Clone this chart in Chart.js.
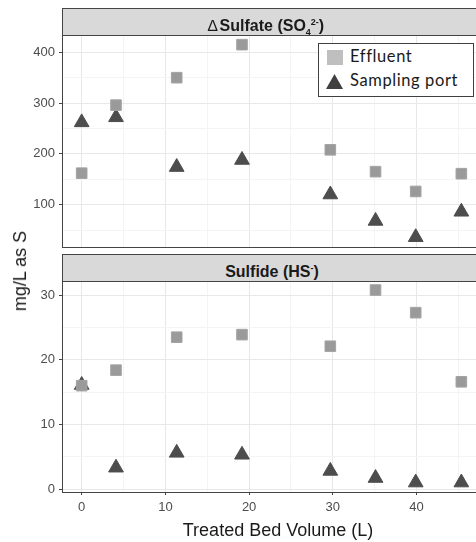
<!DOCTYPE html>
<html>
<head>
<meta charset="utf-8">
<script src="https://cdn.jsdelivr.net/npm/chart.js@4.4.1/dist/chart.umd.min.js"></script>
<style>
    body { margin: 0; background: #fff; }
    #wrap { position: relative; width: 476px; height: 542px; overflow: hidden; font-family: "Liberation Sans", Arial, sans-serif; }
    canvas { position: absolute; left: 0; }
    .strip { position: absolute; left: 62px; width: 440px; height: 28px; box-sizing: border-box; background: #d9d9d9; border: 1px solid #444; z-index: 2; }
    .strip-text { position: absolute; font-weight: bold; font-size: 16px; line-height: 16px; color: #1a1a1a; white-space: nowrap; transform: translateX(-50%); z-index: 3; }
    .strip-text sub, .strip-text sup { font-size: 9px; line-height: 0; }
    .delta { font-weight: normal; margin-right: 2px; }
    #ytitle { position: absolute; left: 20px; top: 271px; font-size: 18px; line-height: 18px; color: #1a1a1a; white-space: nowrap; transform: translate(-50%, -50%) rotate(-90deg); }
    #legend { position: absolute; left: 318px; top: 43px; width: 156px; height: 54px; box-sizing: border-box; border: 1.5px solid #404040; background: #fff; z-index: 4; font-family: Lato, "Open Sans", sans-serif; }
    #legend .sq { position: absolute; left: 7.5px; top: 6px; width: 16px; height: 15px; background: #bfbfbf; }
    #legend .tri { position: absolute; left: 7px; top: 30px; width: 17px; height: 15px; background: #404040; clip-path: polygon(50% 0, 100% 100%, 0 100%); }
    #legend .lbl { position: absolute; left: 31px; font-size: 16.5px; line-height: 16.5px; letter-spacing: 0.6px; color: #1a1a1a; white-space: nowrap; }
</style>
</head>
<body>
<div id="wrap">
    <div class="strip" style="top: 8px;"></div>
    <div class="strip-text" style="left: 266px; top: 17.5px;"><span class="delta">&#8710;</span>Sulfate (SO<sub>4</sub><sup>2-</sup>)</div>
    <div class="strip" style="top: 254px;"></div>
    <div class="strip-text" style="left: 272px; top: 263.5px;">Sulfide (HS<sup>-</sup>)</div>

    <canvas id="chart-sulfate" width="494" height="213" style="top: 35px;"></canvas>
    <canvas id="chart-sulfide" width="494" height="261" style="top: 281px;"></canvas>

    <div id="ytitle">mg/L as S</div>

    <div id="legend">
        <span class="sq"></span><span class="lbl" style="top: 4.2px;">Effluent</span>
        <span class="tri"></span><span class="lbl" style="top: 27.6px;">Sampling port</span>
    </div>
</div>

<script>
// valores
const bedVolume = [0, 4.1, 11.35, 19.15, 29.7, 35.1, 39.9, 45.35];

const sulfateEffluent = [162, 296, 350, 415, 208, 165, 126, 161];
const sulfatePort = [262, 272, 174, 188, 120, 68, 36, 86];

const sulfideEffluent = [16.0, 18.4, 23.5, 23.9, 22.1, 30.8, 27.3, 16.6];
const sulfidePort = [16.1, 3.3, 5.6, 5.3, 2.8, 1.7, 1.0, 1.0];

const xMajorTicks = [0, 10, 20, 30, 40];
const xMinorTicks = [5, 15, 25, 35, 45];
const sulfateMajorTicks = [100, 200, 300, 400];
const sulfateMinorTicks = [50, 150, 250, 350];
const sulfideMajorTicks = [0, 10, 20, 30];
const sulfideMinorTicks = [5, 15, 25];

function pontos(valores) {
    return bedVolume.map(function (x, i) {
        return { x: x, y: valores[i] };
    });
}

function montarEixo(major, minor, extra) {
    const eixo = {
        afterBuildTicks: function (scale) {
            scale.ticks = major.concat(minor).sort((a, b) => a - b).map(v => ({ value: v }));
        },
        ticks: {
            autoSkip: false,
            maxRotation: 0,
            color: '#4d4d4d',
            font: { family: '"Liberation Sans", Arial, sans-serif', size: 13 },
            callback: function (value) {
                return major.includes(value) ? value : '';
            }
        },
        grid: {
            color: ctx => major.includes(ctx.tick.value) ? '#e8e8e8' : '#f4f4f4',
            tickColor: ctx => major.includes(ctx.tick.value) ? '#444' : 'rgba(0,0,0,0)',
            tickLength: 3,
            lineWidth: 1
        },
        border: { display: true, color: '#444', width: 1 }
    };
    return Object.assign(eixo, extra);
}

function plotarPainel(canvasId, effluent, port, yMin, yMax, yMajor, yMinor, mostrarX) {
    const eixoX = montarEixo(xMajorTicks, xMinorTicks, {
        type: 'linear',
        min: -2.35,
        max: 49.25,
        afterFit: function (scale) {
            scale.height = mostrarX ? 50 : 0;
            scale.paddingLeft = 0;
            scale.paddingRight = 0;
        }
    });
    eixoX.ticks.display = mostrarX;
    eixoX.ticks.padding = 5;
    eixoX.grid.drawTicks = mostrarX;
    eixoX.title = {
        display: mostrarX,
        text: 'Treated Bed Volume (L)',
        color: '#1a1a1a',
        font: { family: '"Liberation Sans", Arial, sans-serif', size: 18, lineHeight: 1.2 },
        padding: { top: 0, bottom: 0 }
    };

    const eixoY = montarEixo(yMajor, yMinor, {
        type: 'linear',
        min: yMin,
        max: yMax,
        afterFit: function (scale) {
            scale.width = 62;
            scale.paddingTop = 0;
            scale.paddingBottom = 0;
        }
    });
    eixoY.ticks.padding = 4;

    const config = {
        type: 'scatter',
        data: {
            datasets: [{
                label: 'Effluent',
                data: pontos(effluent),
                pointStyle: 'rect',
                pointRadius: 7.5,
                backgroundColor: '#9a9a9a',
                borderColor: '#a4a4a4',
                borderWidth: 1
            },
            {
                label: 'Sampling port',
                data: pontos(port),
                pointStyle: 'triangle',
                pointRadius: 8.5,
                backgroundColor: '#4d4d4d',
                borderColor: '#4d4d4d',
                borderWidth: 1
            }]
        },
        options: {
            responsive: false,
            animation: false,
            devicePixelRatio: 1,
            events: [],
            layout: {
                autoPadding: false,
                padding: { top: 0, right: 0, bottom: mostrarX ? 0 : 1, left: 0 }
            },
            plugins: {
                legend: { display: false },
                tooltip: { enabled: false }
            },
            scales: {
                x: eixoX,
                y: eixoY
            }
        }
    };

    return new Chart(document.getElementById(canvasId), config);
}

plotarPainel('chart-sulfate', sulfateEffluent, sulfatePort, 16.7, 434, sulfateMajorTicks, sulfateMinorTicks, false);
plotarPainel('chart-sulfide', sulfideEffluent, sulfidePort, -0.46, 32.2, sulfideMajorTicks, sulfideMinorTicks, true);
</script>
</body>
</html>
